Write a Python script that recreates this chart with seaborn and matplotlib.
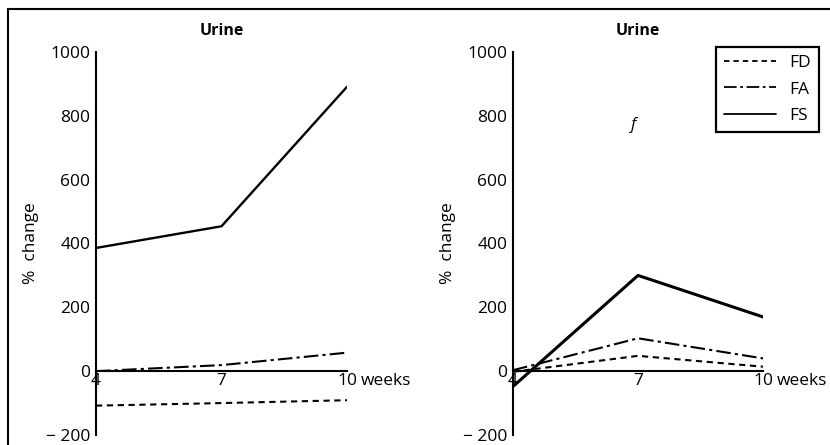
import numpy as np
import pandas as pd
import matplotlib.pyplot as plt
import matplotlib.transforms as mtransforms
import seaborn as sns
from matplotlib.lines import Line2D

# 数据：两幅图都是 Urine 的 % change
weeks = [4, 7, 10]
groups = ['FD', 'FA', 'FS']
left_FD = [-108, -100, -91]
left_FA = [0, 19, 58]
left_FS = [386, 454, 891]
right_FD = [-2, 48, 14]
right_FA = [3, 103, 40]
right_FS = [-48, 300, 170]
y_ticks = [-200, 0, 200, 400, 600, 800, 1000]
y_tick_labels = ['\u2212 200', '0', '200', '400', '600', '800', '1000']
x_tick_labels = ['4', '7', '10']

FS_TICK = 12.5


def make_df(fd, fa, fs):
    rows = []
    for g, vals in zip(groups, [fd, fa, fs]):
        for w, v in zip(weeks, vals):
            rows.append({'week': w, 'change': v, 'group': g})
    return pd.DataFrame(rows)


def draw_panel(ax, df, fs_width):
    dashes = {'FD': (3, 2.2), 'FA': (7, 2, 1.5, 2), 'FS': ''}
    sns.lineplot(data=df, x='week', y='change', style='group', dashes=dashes,
                 color='black', linewidth=1.5, ax=ax, legend=False)
    # FS 线条稍粗
    ax.lines[2].set_linewidth(fs_width)
    ax.set_xlim(4, 10)
    ax.set_ylim(-200, 1000)
    ax.spines['right'].set_visible(False)
    ax.spines['top'].set_visible(False)
    ax.spines['bottom'].set_position(('data', 0))
    for s in ('left', 'bottom'):
        ax.spines[s].set_linewidth(1.5)
        ax.spines[s].set_color('black')
    ax.set_xticks(weeks)
    ax.set_xticklabels(x_tick_labels)
    ax.set_yticks(y_ticks)
    ax.set_yticklabels(y_tick_labels)
    ax.tick_params(direction='in', length=6, width=1.3, labelsize=FS_TICK, pad=4,
                   colors='black')
    ax.tick_params(axis='x', pad=1)
    ax.set_xlabel('')
    ax.set_ylabel('%  change', fontsize=FS_TICK, labelpad=5, color='black')
    ax.set_title('Urine', fontsize=11.5, fontweight='bold', pad=12, color='black')
    # "weeks" 紧跟在 10 后面
    tr = mtransforms.offset_copy(ax.transData, fig=ax.figure, x=10, y=-1, units='points')
    ax.text(10, 0, 'weeks', fontsize=FS_TICK, ha='left', va='top', transform=tr,
            clip_on=False, color='black')


sns.set_style('white')
plt.rcParams['font.family'] = ['Open Sans', 'DejaVu Sans']
plt.rcParams['text.color'] = 'black'

fig = plt.figure(figsize=(8.3, 4.45), dpi=100)
ax1 = fig.add_axes([96 / 830, 10 / 445, 251 / 830, 383 / 445])
ax2 = fig.add_axes([513 / 830, 10 / 445, 250 / 830, 383 / 445])

draw_panel(ax1, make_df(left_FD, left_FA, left_FS), 1.7)
draw_panel(ax2, make_df(right_FD, right_FA, right_FS), 2.2)

# 图例
handles = [Line2D([], [], color='black', lw=1.3, dashes=(3, 2.2)),
           Line2D([], [], color='black', lw=1.3, dashes=(7, 2, 1.5, 2)),
           Line2D([], [], color='black', lw=1.3)]
leg = ax2.legend(handles, groups, loc='upper right', bbox_to_anchor=(819 / 830, 1 - 47 / 445),
                 bbox_transform=fig.transFigure, fancybox=False, fontsize=FS_TICK,
                 handlelength=3.0, handletextpad=0.8, borderaxespad=0, labelspacing=0.6,
                 borderpad=0.45, labelcolor='black', framealpha=1)
leg.get_frame().set_edgecolor('black')
leg.get_frame().set_linewidth(1.6)

# 扫描图上的小记号
ax2.text(6.9, 760, 'f', fontsize=12, fontstyle='italic', ha='center')

# 外框（左、上）
fig.add_artist(Line2D([8 / 830, 8 / 830], [0, 1 - 9 / 445], color='black', lw=1.5,
                      transform=fig.transFigure))
fig.add_artist(Line2D([8 / 830, 1], [1 - 9 / 445, 1 - 9 / 445], color='black', lw=1.5,
                      transform=fig.transFigure))

fig.savefig('out.png', dpi=100)
